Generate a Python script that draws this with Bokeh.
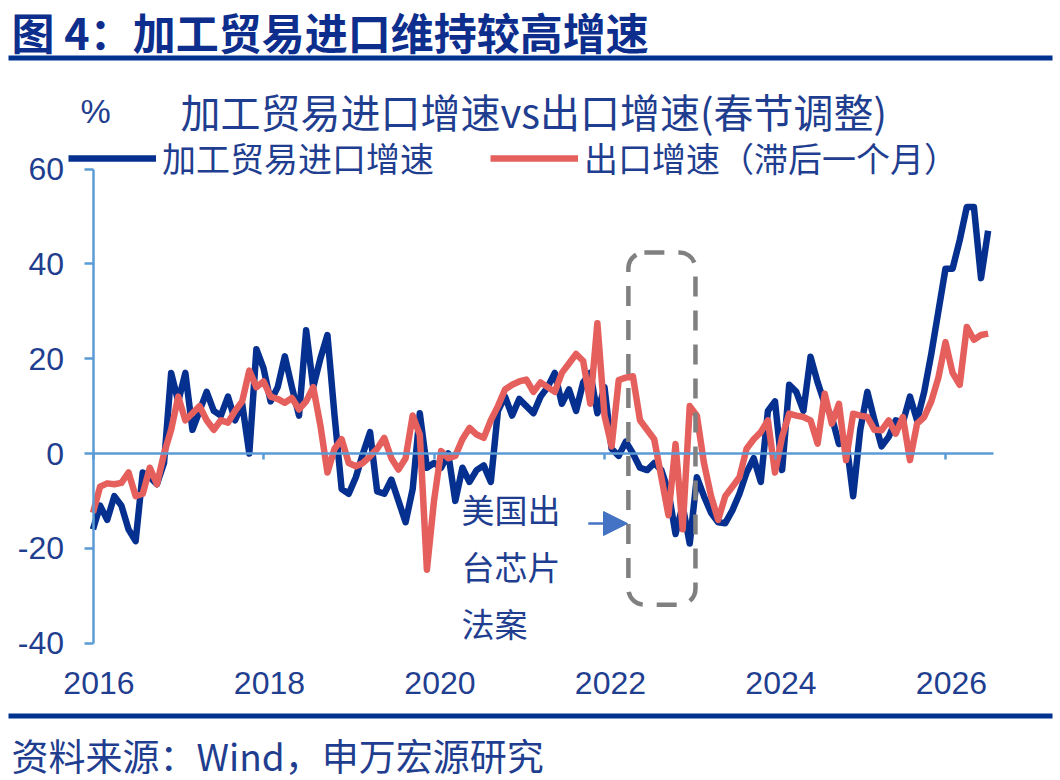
import numpy as np
from bokeh.plotting import figure
from bokeh.models import (Label, Legend, LegendItem, BoxAnnotation, Arrow,
                          NormalHead, FixedTicker, LinearAxis, Range1d)
from bokeh.embed import file_html
from bokeh.resources import INLINE

# ---------------- data (monthly, starting Jan 2016) ----------------
start_year = 2016
processing_imports = [
    -16, -11, -14, -9, -11, -16, -18.5, -4, -5, -6.5, -2, 17,
    11, 17, 5, 9, 13, 9, 8, 12, 7, 10.5, 0, 22,
    18, 11, 14, 20.5, 14, 8, 26, 14, 20, 25, 8, -7.5,
    -8.5, -5, 0, 4.5, -8, -8.5, -5.5, -10, -14.5, -7.5, 8.5, -3,
    -2, -3, 0, -10, -3, -6, -3.5, -2.5, -6, 9, 12, 8,
    11.5, 10, 8.5, 12, 14, 17, 10.5, 13.5, 9, 15, 17, 8.5,
    14, 1, -0.5, 2.5, 0, -3, -3.5, -2, -3.5, -8, -17, -11,
    -19, -5, -9, -12.5, -14.5, -14.7, -12, -8.5, -4, -1, -6, 9,
    11, -3.5, 14.5, 13, 9, 20.4, 15, 10.5, 7.7, 2, 3, -9,
    5, 13, 7, 1.5, 3.5, 7, 6.5, 12, 7, 13, 21, 30,
    39, 39, 45, 52, 52, 37, 47,
]
exports_lagged = [
    -12.5, -7, -6.3, -6.5, -6.2, -4, -9, -8.5, -3, -6.5, 0, 5,
    12, 7, 8.5, 10, 7, 5, 7, 6.5, 9, 11, 17.5, 14,
    15.2, 12, 11.5, 10.7, 11.7, 9.3, 11, 14, 6, -4, 1, 3,
    -2, -2.7, -2, -0.6, 1, 3.3, -1, -3.4, -1, 8, 4, -24.5,
    -10, 0.5, -1, -0.5, 3, 5.4, 4, 3.3, 7, 10, 13.5, 14.5,
    15.2, 15.6, 13, 15, 14, 13, 17, 19, 21, 19.5, 10.5, 27.5,
    8, 1.5, 15.5, 16, 16.3, 7, 5, 3, -5, -13, 2, -16,
    10, 8, -2, -9, -14, -9, -7, -5, 1, 3, 4.5, 7,
    -4, 3.5, 8.4, 8, 7.7, 7, 2.1, 12.6, 6.3, 10.5, -1.4, 8.4,
    8, 7.7, 5, 4.9, 7, 4.2, 7.7, -1.4, 6.3, 7.7, 11, 16,
    23.5, 17, 14.5, 26.7, 24, 25, 25.3,
]
year_ticks = [2016, 2018, 2020, 2022, 2024, 2026]
value_ticks = [-40, -20, 0, 20, 40, 60]

series_names = ["加工贸易进口增速", "出口增速（滞后一个月）"]
chart_title = "加工贸易进口增速vs出口增速(春节调整)"
figure_title = "图 4：加工贸易进口维持较高增速"
source_text = "资料来源：Wind，申万宏源研究"
note_lines = ["美国出", "台芯片", "法案"]

# ---------------- style ----------------
BLUE = "#06308F"
RED = "#E5605D"
AXIS = "#5B9BD5"
TITLE_C = "#0D2E8C"
TEXT_C = "#1F3E8F"
RULE_C = "#00338F"
GRAY = "#808080"
ARROW_C = "#4472C4"
CJK = "Noto Sans CJK SC"
NUM = "Liberation Sans"

months = np.arange(len(processing_imports))
x = start_year + months / 12.0

W, H = 1060, 780
# plot frame fills the page; ranges place 2016 / 60 / -40 where the reference has them
PX_PER_YEAR, X0_PX = 85.25, 92.5
PX_PER_UNIT, Y0_PX = 4.74, 453.0
x_range = Range1d(start_year - X0_PX / PX_PER_YEAR, start_year + (W - X0_PX) / PX_PER_YEAR)
y_range = Range1d(-(H - Y0_PX) / PX_PER_UNIT, Y0_PX / PX_PER_UNIT)

p = figure(width=W, height=H, output_backend="svg", toolbar_location=None,
           x_range=x_range, y_range=y_range,
           min_border=0, min_border_left=0, min_border_right=0,
           min_border_top=0, min_border_bottom=0)
p.outline_line_color = None
p.xgrid.visible = False
p.ygrid.visible = False
p.background_fill_color = "white"
p.border_fill_color = "white"

# y axis at 2016
yax = p.yaxis[0]
yax.fixed_location = start_year
yax.bounds = (min(value_ticks), max(value_ticks))
yax.ticker = FixedTicker(ticks=value_ticks)
yax.major_label_overrides = {v: str(v) for v in value_ticks}
yax.axis_line_color = AXIS
yax.axis_line_width = 2.5
yax.major_tick_line_color = AXIS
yax.major_tick_line_width = 2.5
yax.major_tick_in = 0
yax.major_tick_out = 9
yax.minor_tick_line_color = None
yax.major_label_standoff = 20
yax.major_label_text_font = NUM
yax.major_label_text_font_size = "32px"
yax.major_label_text_color = TEXT_C

# year labels along the bottom (-40)
xax = p.xaxis[0]
xax.fixed_location = min(value_ticks)
label_ticks = [yr + 0.07 for yr in year_ticks]
xax.ticker = FixedTicker(ticks=label_ticks)
xax.major_label_overrides = {t: str(yr) for t, yr in zip(label_ticks, year_ticks)}
xax.axis_line_color = None
xax.major_tick_line_color = None
xax.minor_tick_line_color = None
xax.major_tick_in = 0
xax.major_tick_out = 0
xax.major_label_standoff = 29
xax.major_label_text_font = NUM
xax.major_label_text_font_size = "32px"
xax.major_label_text_color = TEXT_C

# zero line with year ticks
zax = LinearAxis(fixed_location=0, bounds=(start_year, 2026.56),
                 ticker=FixedTicker(ticks=year_ticks),
                 axis_line_color=AXIS, axis_line_width=2.5,
                 major_tick_line_color=AXIS, major_tick_line_width=2.5,
                 major_tick_in=0, major_tick_out=6,
                 minor_tick_line_color=None, major_label_text_color=None)
p.add_layout(zax, "below")

# dashed rounded box + arrow
p.add_layout(BoxAnnotation(left=2022.28, right=2023.067, top=42.4, bottom=-31.9,
                           fill_alpha=0, line_color=GRAY, line_alpha=1, line_width=4.5,
                           line_dash="20 14", border_radius=16))
p.add_layout(Arrow(end=NormalHead(size=24, fill_color=ARROW_C, line_color=ARROW_C),
                   x_start=2021.81, y_start=-14.77, x_end=2022.27, y_end=-14.77,
                   line_color=ARROW_C, line_width=2.5))

# series
r_blue = p.line(x, processing_imports, line_color=BLUE, line_width=6.5, line_join="round")
r_red = p.line(x, exports_lagged, line_color=RED, line_width=6.5, line_join="round")

legend = Legend(items=[LegendItem(label=series_names[0], renderers=[r_blue]),
                       LegendItem(label=series_names[1], renderers=[r_red])],
                orientation="horizontal", location=(68, H - 182),
                glyph_width=88, glyph_height=20, label_standoff=6, spacing=56,
                padding=0, margin=0, border_line_color=None,
                background_fill_alpha=0,
                label_text_font=CJK, label_text_font_size="34px",
                label_text_color=TEXT_C)
p.add_layout(legend, "center")


def label(text, X, Y, size, color, bold=False, font=CJK):
    p.add_layout(Label(x=X, y=H - Y, x_units="screen", y_units="screen",
                       text=text, text_font=font, text_font_size=f"{size}px",
                       text_color=color, text_font_style="bold" if bold else "normal",
                       text_align="left", text_baseline="middle"))


def rule(Y0, Y1):
    p.add_layout(BoxAnnotation(left=8, right=1052, top=H - Y0, bottom=H - Y1,
                               left_units="screen", right_units="screen",
                               top_units="screen", bottom_units="screen",
                               fill_color=RULE_C, fill_alpha=1, line_alpha=0))


label(figure_title, 11, 30, 43, TITLE_C, bold=True)
rule(55, 60)
label("%", 80, 110, 34, TEXT_C, font=NUM)
label(chart_title, 180, 110, 40, TEXT_C)
for i, t in enumerate(note_lines):
    label(t, 461, 508 + 57 * i, 33, TEXT_C)
rule(713, 718)
label(source_text, 11, 754, 37, TEXT_C)

open("out.html", "w").write(file_html(p, INLINE))
